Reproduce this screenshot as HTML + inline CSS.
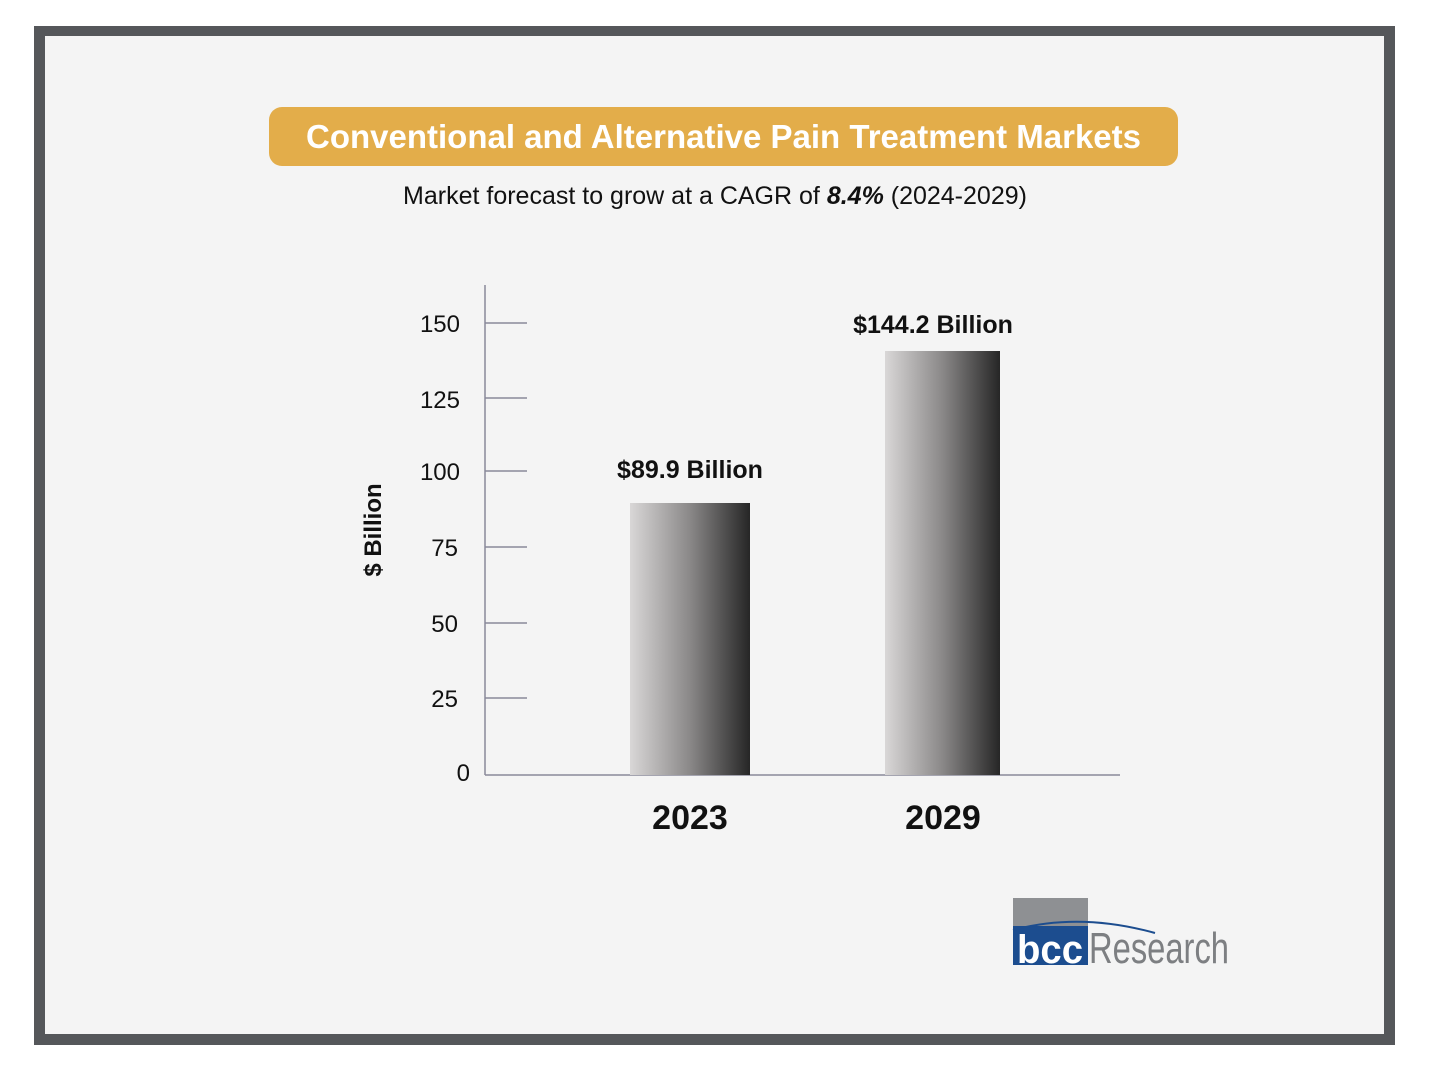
<!DOCTYPE html>
<html><head><style>
body{margin:0;width:1430px;height:1073px;background:#fff;font-family:"Liberation Sans",sans-serif;position:relative;overflow:hidden}
.frame{position:absolute;left:34px;top:26px;width:1339px;height:998px;border:11px solid #55575a;border-top-width:10px;background:#f4f4f4}
</style></head><body>
<div class="frame"></div>
<div style="position:absolute;left:269px;top:107px;width:909px;height:59px;background:#e3ad4a;border-radius:13px;color:#fff;font-weight:bold;font-size:33px;text-align:center;line-height:59px">Conventional and Alternative Pain Treatment Markets</div>
<div style="position:absolute;left:0;width:1430px;top:182px;text-align:center;font-size:25px;color:#111">Market forecast to grow at a CAGR of <b><i>8.4%</i></b> (2024-2029)</div>
<svg width="1430" height="1073" style="position:absolute;left:0;top:0">
<defs><linearGradient id="g" x1="0" x2="1"><stop offset="0" stop-color="#d9d7d7"/><stop offset="0.5" stop-color="#8a8888"/><stop offset="1" stop-color="#262626"/></linearGradient></defs>
<g stroke="#8a8a9a" stroke-width="1.5">
<line x1="485" y1="285" x2="485" y2="775"/>
<line x1="485" y1="775" x2="1120" y2="775"/>
<line x1="485" y1="323" x2="527" y2="323"/>
<line x1="485" y1="398" x2="527" y2="398"/>
<line x1="485" y1="471" x2="527" y2="471"/>
<line x1="485" y1="547" x2="527" y2="547"/>
<line x1="485" y1="623" x2="527" y2="623"/>
<line x1="485" y1="698" x2="527" y2="698"/>
</g>
<g font-size="24" text-anchor="end" fill="#111">
<text x="460" y="332">150</text><text x="460" y="408">125</text><text x="460" y="480">100</text><text x="458" y="556">75</text><text x="458" y="632">50</text><text x="458" y="707">25</text><text x="470" y="781">0</text>
</g>
<text transform="translate(381,530) rotate(-90)" text-anchor="middle" font-size="24" font-weight="bold" fill="#111">$ Billion</text>
<rect x="630" y="503" width="120" height="272" fill="url(#g)"/>
<rect x="885" y="351" width="115" height="424" fill="url(#g)"/>
<g font-weight="bold" fill="#111" text-anchor="middle">
<text x="690" y="478" font-size="25">$89.9 Billion</text>
<text x="933" y="333" font-size="25">$144.2 Billion</text>
<text x="690" y="829" font-size="34">2023</text>
<text x="943" y="829" font-size="34">2029</text>
</g>
<rect x="1013" y="898" width="75" height="28" fill="#8e9093"/>
<rect x="1013" y="926" width="75" height="39" fill="#1c4d8f"/>
<path d="M1013 930 Q1080 912 1155 933" stroke="#1c4d8f" stroke-width="2" fill="none"/>
<text x="1050" y="963" font-size="40" font-weight="bold" fill="#fff" text-anchor="middle" textLength="66" lengthAdjust="spacingAndGlyphs">bcc</text>
<text x="1089" y="963" font-size="44" fill="#7d7f82" textLength="140" lengthAdjust="spacingAndGlyphs">Research</text>
</svg>
</body></html>
